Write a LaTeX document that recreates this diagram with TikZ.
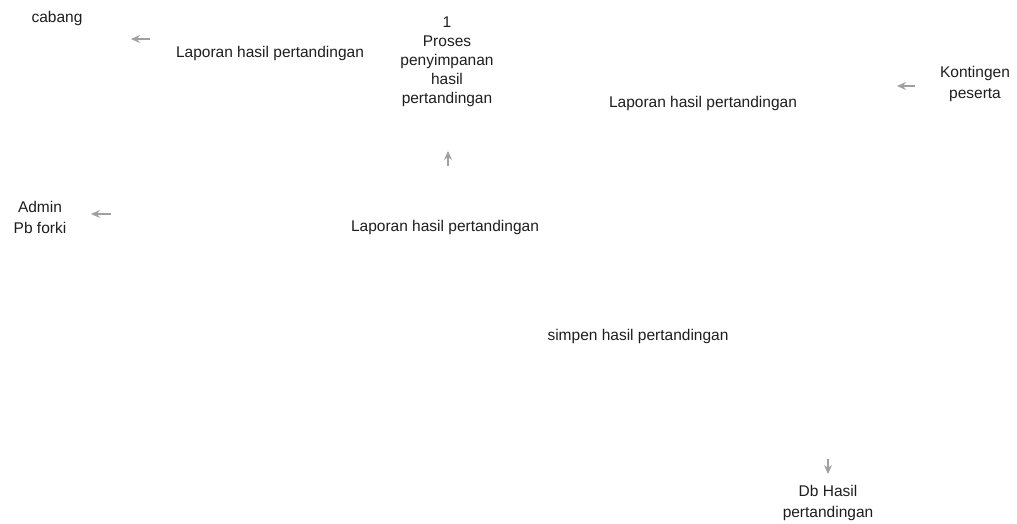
\documentclass[tikz,border=0pt]{standalone}
\usepackage{fontspec}
\setmainfont{Liberation Sans}
\usetikzlibrary{arrows.meta}
\definecolor{txt}{HTML}{1E1E1E}
\definecolor{tipgray}{HTML}{A0A0A0}
\tikzset{
  lbl/.style={inner sep=0pt, text=txt, align=center, font=\fontsize{15.5}{21}\selectfont},
  proc/.style={inner sep=0pt, text=txt, align=center, font=\fontsize{15.5}{19}\selectfont},
  tipline/.style={draw=tipgray, line width=1.3pt, -{Stealth[length=9pt,width=8pt,inset=3pt]}}
}
\begin{document}
\begin{tikzpicture}[x=1pt,y=-1pt]
\useasboundingbox[fill=white] (0,0) rectangle (1017,524);
% entities and processes
\node[lbl] (cabang) at (57,18) {cabang};
\node[proc] (proses) at (447,62) {1\\Proses\\penyimpanan\\hasil\\pertandingan};
\node[lbl] (kontingen) at (975,84) {Kontingen\\peserta};
\node[lbl] (admin) at (40,217) {Admin\\Pb forki};
\node[lbl] (db) at (828,503) {Db Hasil\\pertandingan};
% flow labels
\node[lbl] (l1) at (270,53) {Laporan hasil pertandingan};
\node[lbl] (l2) at (703,103) {Laporan hasil pertandingan};
\node[lbl] (l3) at (445,227) {Laporan hasil pertandingan};
\node[lbl] (l4) at (638,336) {simpen hasil pertandingan};
% visible arrow ends
\coordinate (c1s) at (150,39); \coordinate (c1e) at (131,39);
\coordinate (c2s) at (915,86); \coordinate (c2e) at (897,86);
\coordinate (c3s) at (111,214); \coordinate (c3e) at (91,214);
\coordinate (c4s) at (448,166); \coordinate (c4e) at (448,151);
\coordinate (c5s) at (828,459); \coordinate (c5e) at (828,474);
\draw[tipline] (c1s) -- (c1e);
\draw[tipline] (c2s) -- (c2e);
\draw[tipline] (c3s) -- (c3e);
\draw[tipline] (c4s) -- (c4e);
\draw[tipline] (c5s) -- (c5e);
\end{tikzpicture}
\end{document}
